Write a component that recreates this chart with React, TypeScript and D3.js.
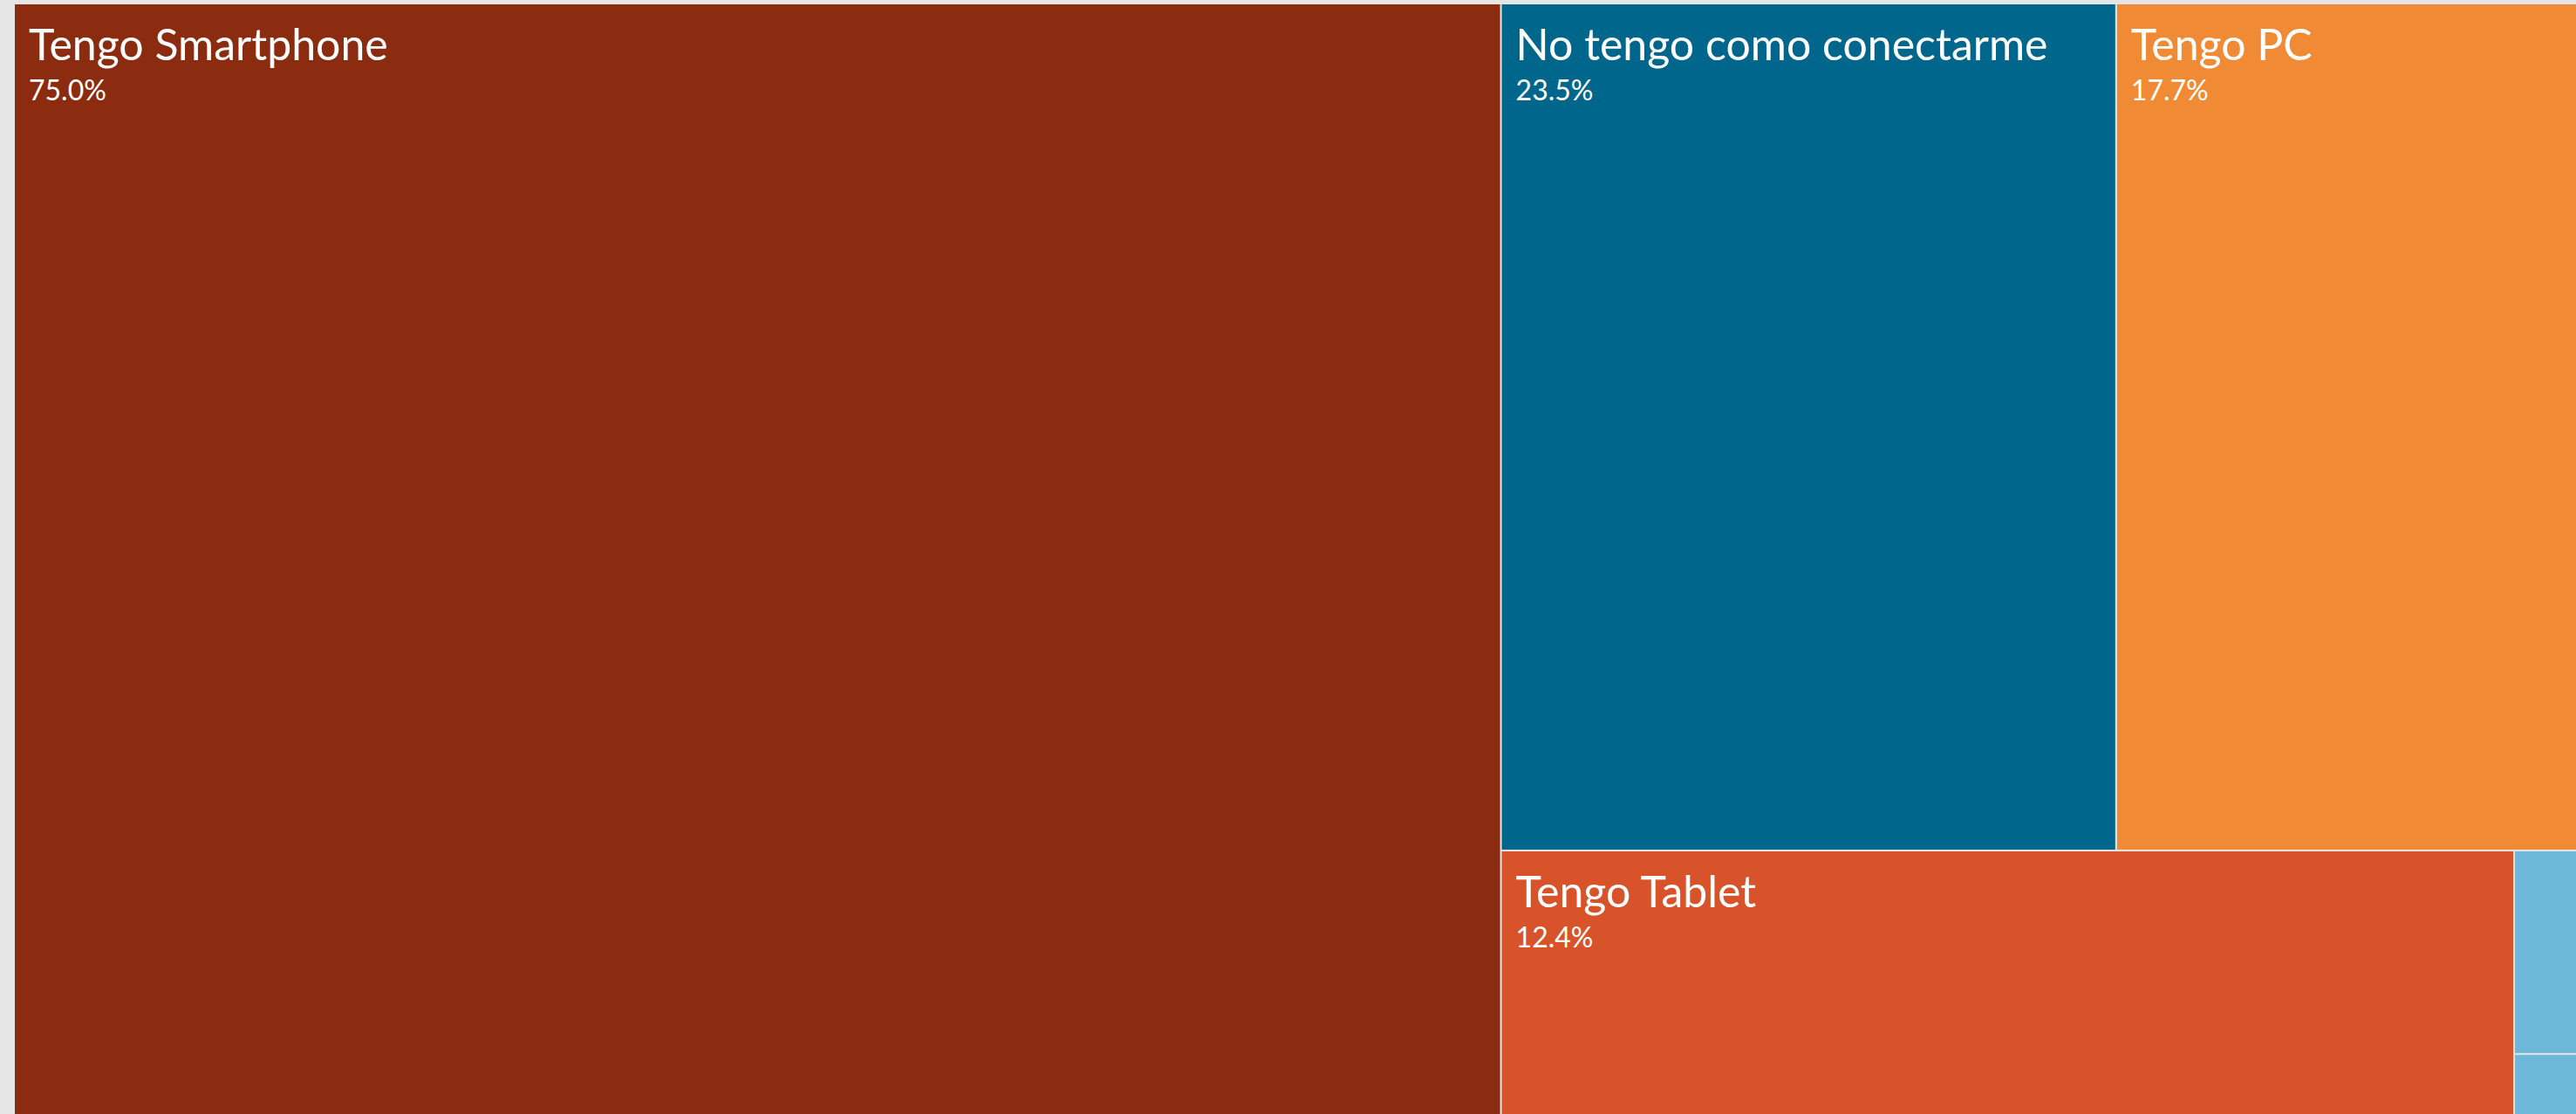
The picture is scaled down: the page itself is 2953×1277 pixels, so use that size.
import React, { useMemo } from "react";
import * as d3 from "d3";

// Data (percent of respondents; multi-answer question)
const categories = [
  "Tengo Smartphone",
  "No tengo como conectarme",
  "Tengo PC",
  "Tengo Tablet",
  "Otro",
  "Ninguno",
];
const percentages = [75.0, 23.5, 17.7, 12.4, 0.6, 0.2];
const colors = ["#8B2B0F", "#01668C", "#F18A34", "#D8522A", "#6DB7DB", "#6DB7DB"];

const WIDTH = 2953;
const HEIGHT = 1277;
const TM_W = 2939;
const TM_H = 1280;
const OFFSET_X = 17;
const OFFSET_Y = 5;
const FONT = "Lato, 'Open Sans', sans-serif";

type Datum = { name: string; value?: number; color?: string; children?: Datum[] };

export default function App() {
  const leaves = useMemo(() => {
    const data: Datum = {
      name: "root",
      children: categories.map((c, i) => ({ name: c, value: percentages[i], color: colors[i] })),
    };
    const root = d3.hierarchy<Datum>(data).sum((d) => d.value ?? 0);
    d3.treemap<Datum>().tile(d3.treemapSquarify).size([TM_W, TM_H]).paddingInner(2)(root);
    return root.leaves() as d3.HierarchyRectangularNode<Datum>[];
  }, []);

  return (
    <div
      style={{
        position: "fixed",
        left: 0,
        top: 0,
        width: WIDTH,
        height: HEIGHT,
        background: "#e6e6e6",
        overflow: "hidden",
      }}
    >
      <svg width={WIDTH} height={HEIGHT} style={{ display: "block" }}>
        <g transform={`translate(${OFFSET_X},${OFFSET_Y})`}>
          {leaves.map((d, i) => {
            const w = d.x1 - d.x0;
            const h = d.y1 - d.y0;
            const showLabel = w > 250 && h > 130;
            return (
              <g key={i} transform={`translate(${d.x0},${d.y0})`}>
                <rect width={w} height={h} fill={d.data.color} />
                {showLabel && (
                  <>
                    <text x={16} y={64} fill="#fff" fontFamily={FONT} fontSize={50}>
                      {d.data.name}
                    </text>
                    <text x={16} y={110} fill="#fff" fontFamily={FONT} fontSize={32}>
                      {(d.data.value ?? 0).toFixed(1)}%
                    </text>
                  </>
                )}
              </g>
            );
          })}
        </g>
      </svg>
    </div>
  );
}
